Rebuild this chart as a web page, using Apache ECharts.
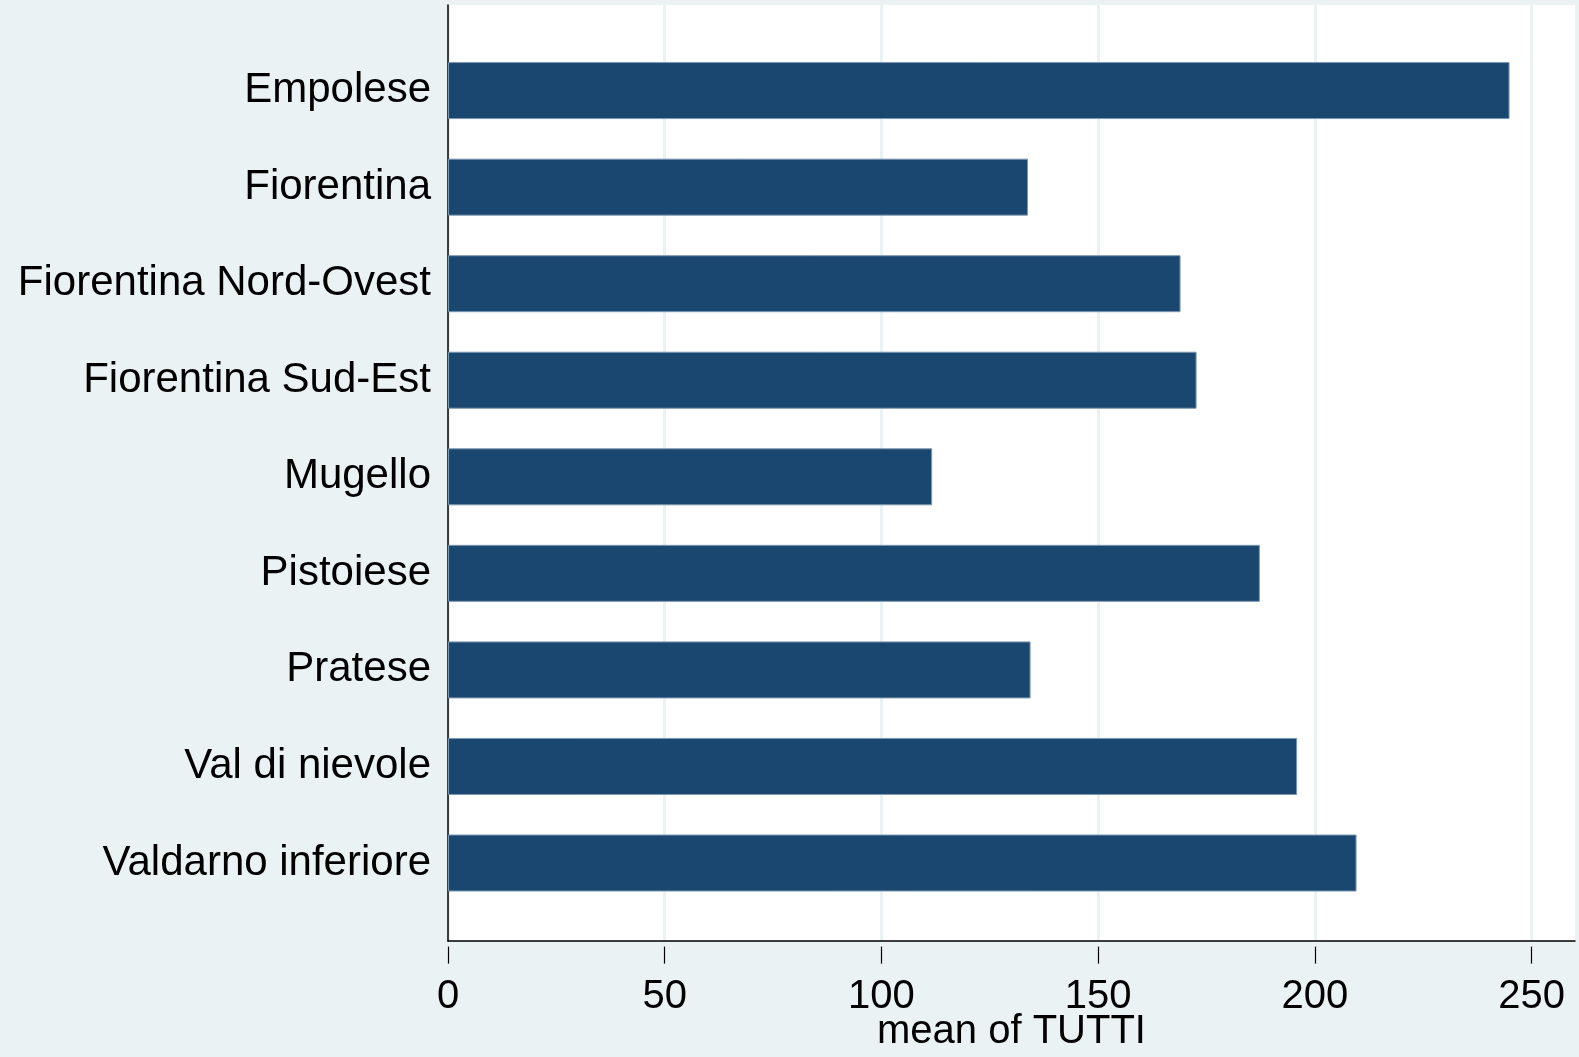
<!DOCTYPE html>
<html>
<head>
<meta charset="utf-8">
<script src="https://cdn.jsdelivr.net/npm/echarts@6/dist/echarts.min.js"></script>
<style>
html,body{margin:0;padding:0;background:#eaf2f3;}
#main{width:1579px;height:1057px;}
</style>
</head>
<body>
<div id="main"></div>
<script>
var categories = ["Empolese","Fiorentina","Fiorentina Nord-Ovest","Fiorentina Sud-Est","Mugello","Pistoiese","Pratese","Val di nievole","Valdarno inferiore"];
var meanTutti = [244.9, 133.8, 169.0, 172.7, 111.7, 187.3, 134.4, 195.9, 209.6];
var xTicks = [0, 50, 100, 150, 200, 250];
var xTitle = "mean of TUTTI";

var FONT = "'Liberation Sans', Arial, sans-serif";
var chart = echarts.init(document.getElementById('main'), null, {renderer:'canvas'});
chart.setOption({
  backgroundColor: '#eaf2f3',
  animation: false,
  grid: [
    {left:448, right:4, top:5, bottom:110.4, show:true, backgroundColor:'#ffffff', borderWidth:0},
    {left:448, right:1579-448-250*(1127/260), top:5, bottom:110.4},
    {left:448, right:4, top:42.3, bottom:145.7}
  ],
  xAxis: [
    {gridIndex:0, type:'value', min:0, max:260,
     axisLine:{show:true, onZero:false, lineStyle:{color:'#000', width:1.5}},
     axisTick:{show:false}, axisLabel:{show:false}, splitLine:{show:false},
     name:xTitle, nameLocation:'middle', nameGap:71,
     nameTextStyle:{fontFamily:FONT, fontSize:40, color:'#000', lineHeight:40}},
    {gridIndex:1, type:'value', min:xTicks[0], max:xTicks[xTicks.length-1], interval:50,
     axisLine:{show:false},
     axisTick:{show:true, length:17, lineStyle:{color:'#000', width:1.2}},
     axisLabel:{show:true, margin:30, fontFamily:FONT, fontSize:40, color:'#000', lineHeight:40},
     splitLine:{show:true, lineStyle:{color:'#eaf2f3', width:3}}},
    {gridIndex:2, type:'value', min:0, max:260, show:false}
  ],
  yAxis: [
    {gridIndex:0, type:'value', min:0, max:1,
     axisLine:{show:true, onZero:false, lineStyle:{color:'#000', width:1.5}},
     axisTick:{show:false}, axisLabel:{show:false}, splitLine:{show:false}},
    {gridIndex:1, type:'value', show:false},
    {gridIndex:2, type:'category', data:categories, inverse:true,
     axisLine:{show:false}, axisTick:{show:false}, splitLine:{show:false},
     axisLabel:{show:true, margin:17, fontFamily:FONT, fontSize:42, color:'#000', padding:[4,0,0,0]}}
  ],
  series: [
    {type:'bar', xAxisIndex:2, yAxisIndex:2, data:meanTutti, barWidth:57,
     itemStyle:{color:'#1a476f', borderColor:'#7d98b3', borderWidth:1}}
  ]
});
</script>
</body>
</html>
